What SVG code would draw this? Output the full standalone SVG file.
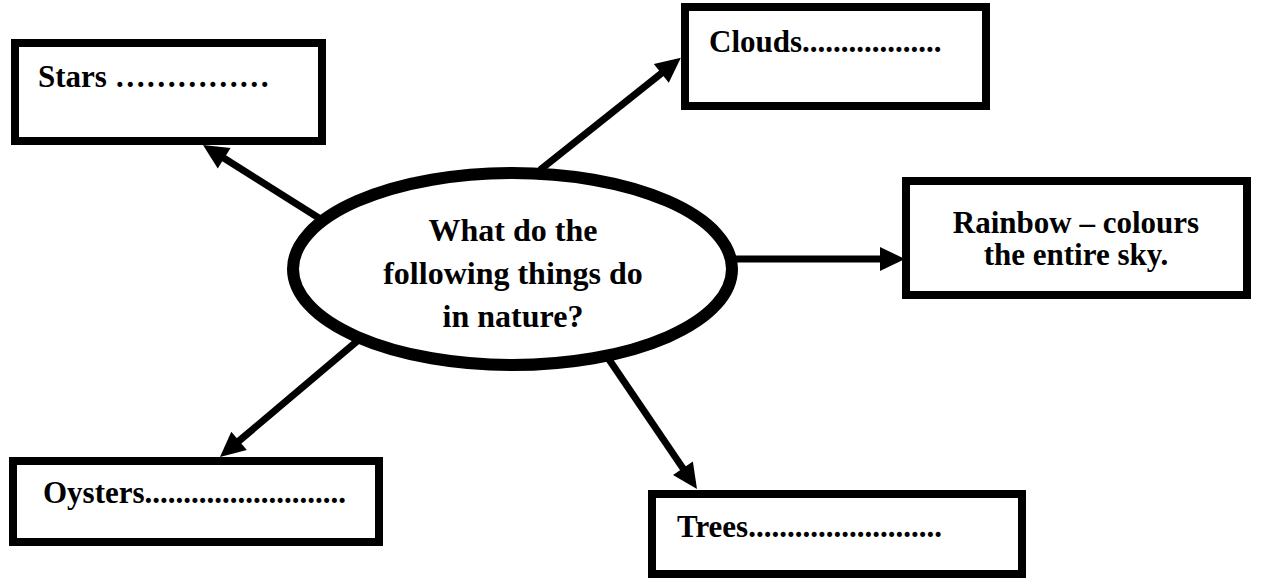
<svg xmlns="http://www.w3.org/2000/svg" width="1263" height="578" viewBox="0 0 1263 578">
<style>
.box{fill:#fff;stroke:#000;stroke-width:8}
.ell{fill:#fff;stroke:#000;stroke-width:12}
.lbl{font-family:"Liberation Serif","Times New Roman",serif;font-weight:bold;font-size:31px;fill:#000}
.ctr{font-size:32px;text-anchor:middle}
.conn{stroke:#000;stroke-width:7;fill:none;marker-end:url(#ah)}
</style>
<defs>
<marker id="ah" markerUnits="userSpaceOnUse" orient="auto" refX="0" refY="0" markerWidth="30" markerHeight="30" overflow="visible">
<path d="M-1,-12 L24,0 L-1,12 z" fill="#000"/>
</marker>
</defs>
<rect width="1263" height="578" fill="#fff"/>
<g id="connectors">
<line class="conn" x1="322" y1="220" x2="223.3" y2="157.7"/>
<line class="conn" x1="540" y1="170" x2="662.1" y2="72.8"/>
<line class="conn" x1="736" y1="259" x2="881" y2="259"/>
<line class="conn" x1="362" y1="337" x2="238.3" y2="441.5"/>
<line class="conn" x1="608" y1="358" x2="683.5" y2="469.1"/>
</g>
<g id="center">
<ellipse class="ell" cx="512.5" cy="269" rx="219.5" ry="96"/>
<text class="lbl ctr" x="513" y="241">What do the</text>
<text class="lbl ctr" x="513" y="284">following things do</text>
<text class="lbl ctr" x="513" y="327">in nature?</text>
</g>
<g id="stars">
<rect class="box" x="15" y="43" width="307" height="98"/>
<text class="lbl" x="38" y="87">Stars ……………</text>
</g>
<g id="clouds">
<rect class="box" x="685" y="7" width="301" height="99"/>
<text class="lbl" x="709" y="52">Clouds..................</text>
</g>
<g id="rainbow">
<rect class="box" x="906" y="181" width="341" height="114"/>
<text class="lbl ctr" x="1076" y="233" style="font-size:31px">Rainbow – colours</text>
<text class="lbl ctr" x="1076" y="265" style="font-size:31px">the entire sky.</text>
</g>
<g id="oysters">
<rect class="box" x="13" y="461" width="366" height="81"/>
<text class="lbl" x="43" y="503">Oysters..........................</text>
</g>
<g id="trees">
<rect class="box" x="652" y="494" width="370" height="80"/>
<text class="lbl" x="677" y="537">Trees.........................</text>
</g>
</svg>
